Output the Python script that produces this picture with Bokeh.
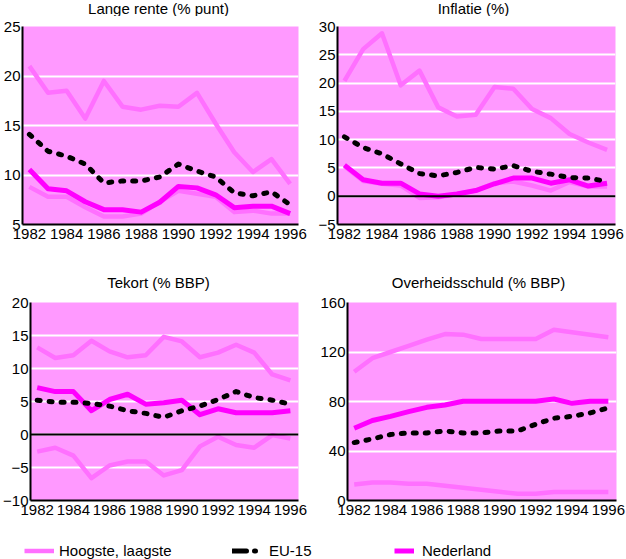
from bokeh.plotting import figure
from bokeh.layouts import column, row
from bokeh.models import Range1d, FixedTicker, Span, Legend, LegendItem, ColumnDataSource, Label
from bokeh.embed import file_html
from bokeh.resources import INLINE

years = list(range(1982, 1997))
x_ticks = [1982, 1984, 1986, 1988, 1990, 1992, 1994, 1996]

# Lange rente (% punt)
rente_hoog = [21.0, 18.3, 18.5, 15.7, 19.5, 16.9, 16.6, 17.0, 16.9, 18.3, 15.2, 12.3, 10.3, 11.6, 9.1]
rente_laag = [8.8, 7.8, 7.8, 6.75, 5.8, 5.8, 6.1, 7.3, 8.4, 8.1, 7.8, 6.25, 6.4, 6.1, 6.1]
rente_eu = [14.1, 12.4, 11.9, 11.1, 9.2, 9.4, 9.4, 9.8, 11.1, 10.4, 9.8, 8.2, 7.9, 8.3, 7.0]
rente_nl = [10.55, 8.6, 8.4, 7.3, 6.5, 6.5, 6.25, 7.25, 8.85, 8.7, 8.0, 6.7, 6.85, 6.85, 6.1]

# Inflatie (%)
infl_hoog = [20.4, 26.0, 28.8, 19.6, 22.2, 15.7, 14.1, 14.4, 19.3, 19.0, 15.4, 13.8, 11.0, 9.5, 8.2]
infl_laag = [5.3, 2.7, 2.2, 1.9, -0.3, -0.2, 0.4, 1.0, 2.3, 2.6, 1.9, 1.0, 2.5, 1.7, 1.7]
infl_eu = [10.5, 8.6, 7.5, 5.7, 4.0, 3.6, 4.2, 5.1, 4.8, 5.4, 4.4, 3.9, 3.3, 3.2, 2.6]
infl_nl = [5.5, 2.9, 2.3, 2.3, 0.4, 0.0, 0.4, 1.0, 2.2, 3.2, 3.2, 2.3, 2.9, 1.8, 2.3]

# Tekort (% BBP)
tek_hoog = [13.2, 11.6, 12.0, 14.2, 12.6, 11.7, 12.0, 14.8, 14.1, 11.7, 12.4, 13.6, 12.4, 9.1, 8.2]
tek_laag = [-2.6, -2.0, -3.2, -6.6, -4.7, -4.1, -4.1, -6.2, -5.4, -1.8, -0.35, -1.6, -2.0, -0.1, -0.6]
tek_eu = [5.2, 4.9, 4.9, 4.7, 4.3, 3.6, 3.2, 2.6, 3.6, 4.3, 5.3, 6.5, 5.6, 5.2, 4.6]
tek_nl = [7.1, 6.5, 6.5, 3.6, 5.3, 6.1, 4.6, 4.8, 5.2, 3.0, 3.9, 3.3, 3.3, 3.3, 3.6]

# Overheidsschuld (% BBP)
schuld_hoog = [104, 115, 120, 125, 130, 134.5, 134, 130.5, 130.5, 130.5, 130.5, 138, 136, 134, 132]
schuld_laag = [13, 14.6, 14.6, 13.5, 13.5, 12, 10.3, 8.7, 7, 5.4, 5.4, 6.8, 6.8, 6.8, 6.8]
schuld_eu = [46.8, 49.8, 53.3, 54.6, 54.6, 56.2, 54.6, 54.6, 56.2, 56.2, 61.6, 66.5, 68, 70.8, 74.8]
schuld_nl = [58.4, 64.6, 68, 71.8, 75.3, 77.2, 80.2, 80.2, 80.2, 80.2, 80.2, 82, 78.5, 80.2, 80.2]

titles = ["Lange rente (% punt)", "Inflatie (%)", "Tekort (% BBP)", "Overheidsschuld (% BBP)"]
legend_labels = ["Hoogste, laagste", "EU-15", "Nederland"]

BG = "#ff99ff"
HL = "#ff70ff"
NL = "#ff00ff"
FONT = "Liberation Sans"
FS = "15px"


def panel(hoog, laag, eu, nl, yr, yticks, width, height, bl, br, bt, bb, zero=False):
    p = figure(width=width, height=height, output_backend="svg", toolbar_location=None,
               x_range=Range1d(1981.63, 1996.45), y_range=Range1d(*yr),
               min_border_left=bl, min_border_right=br, min_border_top=bt, min_border_bottom=bb)
    p.background_fill_color = BG
    p.border_fill_color = "white"
    p.outline_line_color = None
    p.xgrid.grid_line_color = None
    p.ygrid.grid_line_color = "white"
    p.ygrid.grid_line_width = 2
    p.xaxis.ticker = FixedTicker(ticks=x_ticks)
    p.yaxis.ticker = FixedTicker(ticks=yticks)
    for ax in (p.xaxis, p.yaxis):
        ax.axis_line_color = "black"
        ax.axis_line_width = 2
        ax.major_tick_out = 0
        ax.major_tick_in = 0
        ax.minor_tick_out = 0
        ax.minor_tick_in = 0
        ax.major_label_text_font = FONT
        ax.major_label_text_font_size = FS
        ax.major_label_text_color = "black"
    p.xaxis.major_label_standoff = 4
    p.yaxis.major_label_standoff = 2
    src = ColumnDataSource(dict(x=years, hoog=hoog, laag=laag, eu=eu, nl=nl))
    p.line("x", "hoog", source=src, line_color=HL, line_width=4.5, line_join="round")
    p.line("x", "laag", source=src, line_color=HL, line_width=4.5, line_join="round")
    if zero:
        p.add_layout(Span(location=0, dimension="width", line_color="black", line_width=2))
    p.line("x", "nl", source=src, line_color=NL, line_width=5, line_join="round")
    p.line("x", "eu", source=src, line_color="black", line_width=5, line_dash="3 9",
           line_cap="round", line_join="round")
    return p


def title_strip(height, items):
    s = figure(width=626, height=height, output_backend="svg", toolbar_location=None,
               x_range=Range1d(0, 1), y_range=Range1d(0, 1),
               x_axis_type=None, y_axis_type=None,
               min_border_left=0, min_border_right=0, min_border_top=0, min_border_bottom=0)
    s.grid.visible = False
    s.outline_line_color = None
    s.background_fill_color = "white"
    s.border_fill_color = "white"
    for text, sx, sy in items:
        s.add_layout(Label(x=sx, y=sy, x_units="screen", y_units="screen", text=text,
                           text_align="center", text_baseline="middle",
                           text_font=FONT, text_font_size=FS, text_color="black"))
    return s


t1 = title_strip(16, [(titles[0], 158, 8), (titles[1], 473, 8)])
p1 = panel(rente_hoog, rente_laag, rente_eu, rente_nl, (5, 25), [5, 10, 15, 20, 25],
           313, 246, 19, 15, 10, 38)
p2 = panel(infl_hoog, infl_laag, infl_eu, infl_nl, (-5, 30), [-5, 0, 5, 10, 15, 20, 25, 30],
           313, 246, 24, 11, 9, 38, zero=True)
t2 = title_strip(30, [(titles[2], 158, 10), (titles[3], 478, 10)])
p3 = panel(tek_hoog, tek_laag, tek_eu, tek_nl, (-10, 20), [-10, -5, 0, 5, 10, 15, 20],
           313, 228, 26, 15, 9, 20, zero=True)
p4 = panel(schuld_hoog, schuld_laag, schuld_eu, schuld_nl, (0, 160), [0, 40, 80, 120, 160],
           313, 228, 34, 10, 10, 20)

# Legend strip
lg = figure(width=626, height=39, output_backend="svg", toolbar_location=None,
            x_range=Range1d(0, 1), y_range=Range1d(0, 1),
            x_axis_type=None, y_axis_type=None,
            min_border_left=0, min_border_right=0, min_border_top=0, min_border_bottom=0)
lg.grid.visible = False
lg.outline_line_color = None
lg.background_fill_color = "white"
off = dict(x=[-10, -9], y=[-10, -10])
r_hl = lg.line("x", "y", source=ColumnDataSource(off), line_color=HL, line_width=4.5)
r_eu = lg.line("x", "y", source=ColumnDataSource(off), line_color="black", line_width=5,
               line_dash="14 8 1 30", line_cap="round")
r_nl = lg.line("x", "y", source=ColumnDataSource(off), line_color=NL, line_width=5)

for r, lab, xloc, gw, so in [(r_hl, legend_labels[0], 24, 30, 5),
                             (r_eu, legend_labels[1], 232, 30, 7),
                             (r_nl, legend_labels[2], 394, 20, 8)]:
    leg = Legend(items=[LegendItem(label=lab, renderers=[r])], location=(xloc, 0),
                 padding=0, margin=0, border_line_alpha=0, background_fill_alpha=0,
                 glyph_width=gw, glyph_height=15, label_height=15, label_standoff=so,
                 label_text_font=FONT, label_text_font_size=FS, label_text_color="black")
    lg.add_layout(leg)

layout = column(t1, row(p1, p2), t2, row(p3, p4), lg)

html = file_html(layout, INLINE)
html = html.replace("<body>", '<body style="margin:0">', 1)
open("out.html", "w").write(html)
